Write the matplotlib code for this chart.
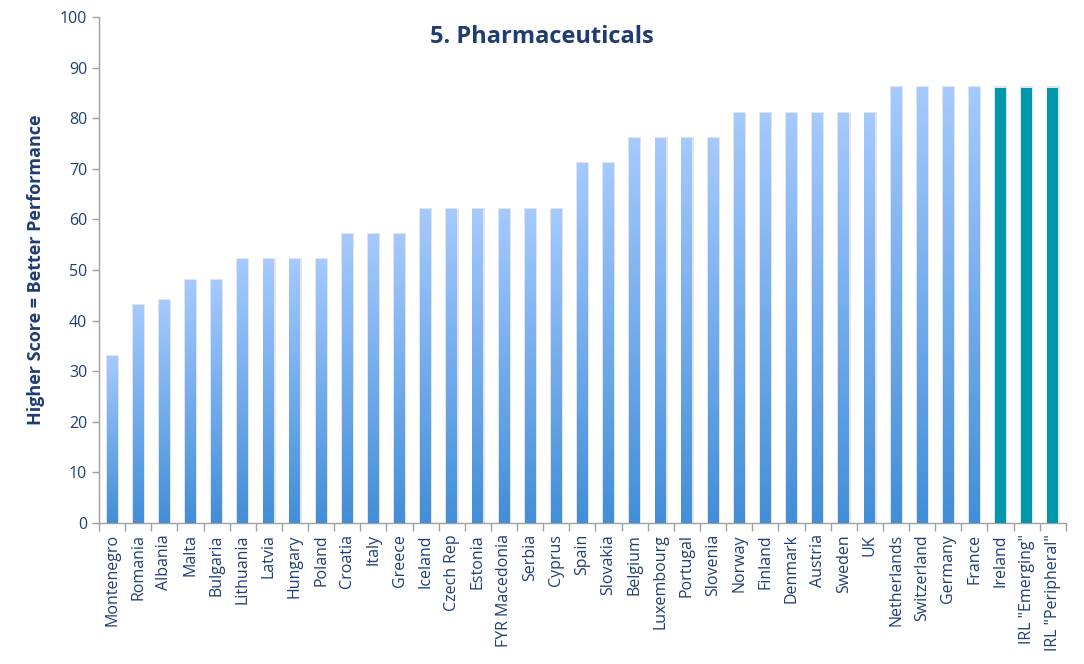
import matplotlib
matplotlib.use("Agg")
import matplotlib.pyplot as plt
import numpy as np
from matplotlib.colors import LinearSegmentedColormap

categories = ["Montenegro", "Romania", "Albania", "Malta", "Bulgaria", "Lithuania", "Latvia",
              "Hungary", "Poland", "Croatia", "Italy", "Greece", "Iceland", "Czech Rep",
              "Estonia", "FYR Macedonia", "Serbia", "Cyprus", "Spain", "Slovakia", "Belgium",
              "Luxembourg", "Portugal", "Slovenia", "Norway", "Finland", "Denmark", "Austria",
              "Sweden", "UK", "Netherlands", "Switzerland", "Germany", "France", "Ireland",
              'IRL "Emerging"', 'IRL "Peripheral"']
values = [33, 43, 44, 48, 48, 52, 52, 52, 52, 57, 57, 57, 62, 62, 62, 62, 62, 62, 71, 71,
          76, 76, 76, 76, 81, 81, 81, 81, 81, 81, 86, 86, 86, 86, 86, 86, 86]
highlight = ["Ireland", 'IRL "Emerging"', 'IRL "Peripheral"']
yticks = [0, 10, 20, 30, 40, 50, 60, 70, 80, 90, 100]

plt.rcParams['font.family'] = ['Open Sans', 'DejaVu Sans']
text_color = "#1f3d73"

fig = plt.figure(figsize=(10.84, 6.64), dpi=100)
ax = fig.add_axes([0.0913, 0.2123, 0.892, 0.7621])

x = np.arange(len(categories))
width = 0.42
cmap = LinearSegmentedColormap.from_list("blue", ["#428ed8", "#a5caff"])
grad = np.linspace(0, 1, 256).reshape(-1, 1)

bars = ax.bar(x, values, width=width, color="none", edgecolor="none", zorder=2)
for b, cat in zip(bars, categories):
    bx, by = b.get_x(), b.get_y()
    bw, bh = b.get_width(), b.get_height()
    ax.add_patch(plt.Rectangle((bx - 0.03, by), bw + 0.08, bh + 0.3, color="#e4e4e4",
                               zorder=1, lw=0))
    if cat in highlight:
        ax.add_patch(plt.Rectangle((bx, by), bw, bh, color="#0097ad", zorder=3, lw=0))
    else:
        ax.imshow(grad, extent=[bx, bx + bw, by, by + bh], origin="lower", cmap=cmap,
                  aspect="auto", zorder=3, interpolation="bilinear")

ax.set_xlim(-0.5, len(categories) - 0.5)
ax.set_ylim(0, 100)
ax.set_yticks(yticks)
ax.set_xticks(x)
ax.set_xticklabels(categories, rotation=90, fontsize=11.5, color=text_color)
ax.set_xticks(np.arange(len(categories) + 1) - 0.5, minor=True)
ax.tick_params(axis="x", which="major", length=0, pad=8)
ax.tick_params(axis="x", which="minor", length=6, color="#a0a0a0", width=1)
ax.tick_params(axis="y", length=5, color="#a0a0a0", width=1, labelsize=11.5, labelcolor=text_color)

for s in ["top", "right"]:
    ax.spines[s].set_visible(False)
for s in ["left", "bottom"]:
    ax.spines[s].set_color("#a0a0a0")
    ax.spines[s].set_linewidth(1)

ax.set_ylabel("Higher Score = Better Performance", fontsize=13, fontweight="bold",
              color=text_color, labelpad=11)
fig.text(0.5, 0.944, "5. Pharmaceuticals", ha="center", va="center",
         fontsize=17, fontweight="bold", color=text_color)

fig.savefig("out.png", dpi=100)
